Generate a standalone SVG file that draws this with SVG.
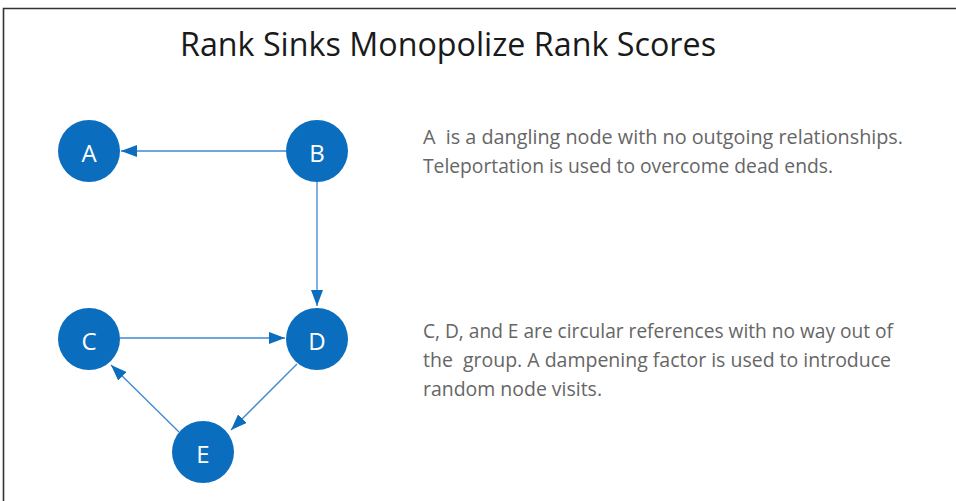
<svg xmlns="http://www.w3.org/2000/svg" width="956" height="501" viewBox="0 0 956 501">
<style>
.node circle{fill:#0b6dbd}
.node text{fill:#fff;font-family:"Open Sans","Noto Sans",sans-serif;font-size:24px;text-anchor:middle;dominant-baseline:central}
.edge{stroke:#3d88d2;stroke-width:1.3;fill:none;marker-end:url(#ah)}
.body{fill:#666;font-family:"Open Sans","Noto Sans",sans-serif;font-size:20px;white-space:pre}
.title{fill:#1a1a1a;font-family:"Open Sans","Noto Sans",sans-serif;font-size:32px;text-anchor:middle}
</style>
<defs>
<marker id="ah" viewBox="0 0 16 12" refX="16" refY="6" markerWidth="16" markerHeight="12" markerUnits="userSpaceOnUse" orient="auto">
<path d="M0,0 L16,6 L0,12 Z" fill="#0b6dbd"/>
</marker>
</defs>
<rect width="956" height="501" fill="#fff"/>
<path d="M3.5,501 V8.5 H956" fill="none" stroke="#333" stroke-width="1.6"/>
<text class="title" x="448" y="56" textLength="536" lengthAdjust="spacingAndGlyphs">Rank Sinks Monopolize Rank Scores</text>
<g id="connectors">
<line class="edge" x1="286" y1="151" x2="121" y2="151"/>
<line class="edge" x1="317" y1="182" x2="317" y2="306"/>
<line class="edge" x1="120" y1="338" x2="285" y2="338"/>
<line class="edge" x1="297" y1="364" x2="231" y2="430"/>
<line class="edge" x1="179" y1="432" x2="111" y2="365"/>
</g>
<g id="node-A" class="node"><circle cx="89" cy="151" r="31"/><text x="89" y="152">A</text></g>
<g id="node-B" class="node"><circle cx="317" cy="151" r="31"/><text x="317" y="152">B</text></g>
<g id="node-C" class="node"><circle cx="89" cy="339" r="31"/><text x="89" y="340">C</text></g>
<g id="node-D" class="node"><circle cx="317" cy="339" r="31"/><text x="317" y="340">D</text></g>
<g id="node-E" class="node"><circle cx="203" cy="452" r="31"/><text x="203" y="453">E</text></g>
<text class="body" x="423" y="144" textLength="480" lengthAdjust="spacingAndGlyphs">A  is a dangling node with no outgoing relationships.</text>
<text class="body" x="423" y="173" textLength="410" lengthAdjust="spacingAndGlyphs">Teleportation is used to overcome dead ends.</text>
<text class="body" x="423" y="338" textLength="470" lengthAdjust="spacingAndGlyphs">C, D, and E are circular references with no way out of</text>
<text class="body" x="423" y="367" textLength="468" lengthAdjust="spacingAndGlyphs">the  group. A dampening factor is used to introduce</text>
<text class="body" x="423" y="396" textLength="179" lengthAdjust="spacingAndGlyphs">random node visits.</text>
</svg>
